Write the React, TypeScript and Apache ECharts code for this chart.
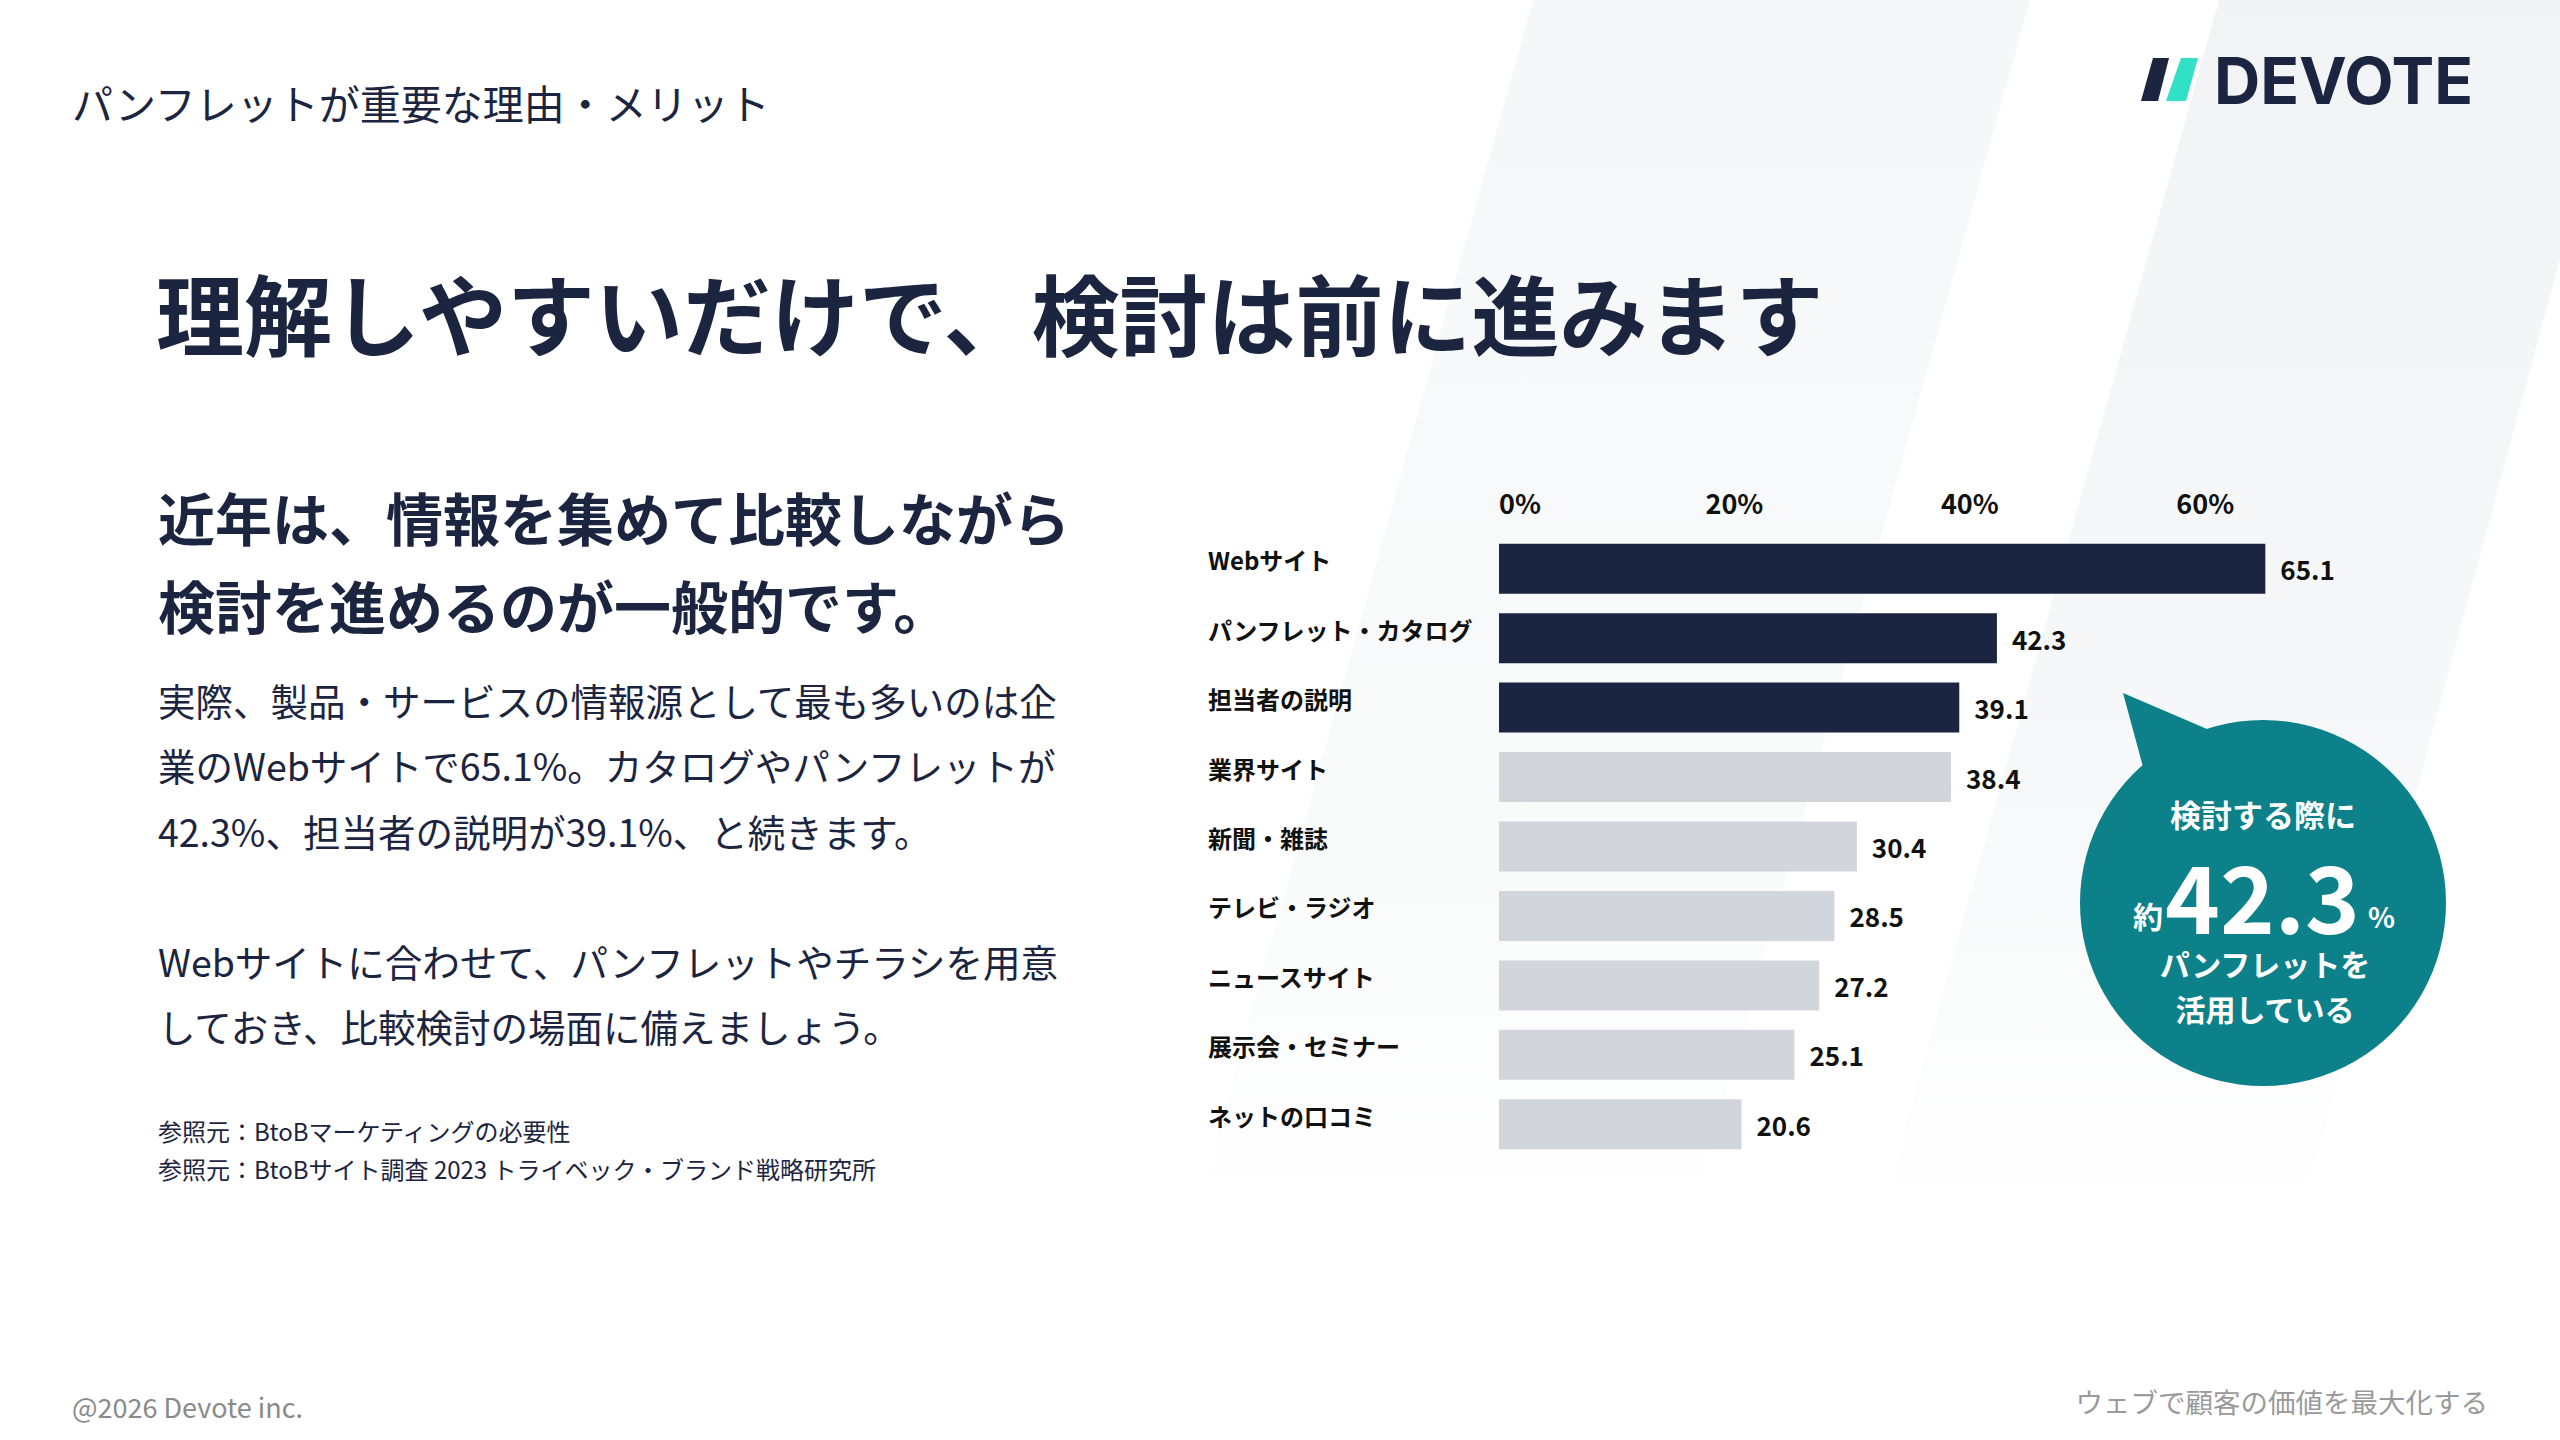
import React, { useEffect, useRef } from "react";
import * as echarts from "echarts";

// ---- data ----
const categories = [
  "Webサイト",
  "パンフレット・カタログ",
  "担当者の説明",
  "業界サイト",
  "新聞・雑誌",
  "テレビ・ラジオ",
  "ニュースサイト",
  "展示会・セミナー",
  "ネットの口コミ",
];
const values = [65.1, 42.3, 39.1, 38.4, 30.4, 28.5, 27.2, 25.1, 20.6];
const highlighted = [true, true, true, false, false, false, false, false, false];
const tickStep = 20;
const axisMax = 70;

const headerText = "パンフレットが重要な理由・メリット";
const titleText = "理解しやすいだけで、検討は前に進みます";
const subLines = ["近年は、情報を集めて比較しながら", "検討を進めるのが一般的です。"];
const bodyLines = [
  "実際、製品・サービスの情報源として最も多いのは企",
  "業のWebサイトで65.1%。カタログやパンフレットが",
  "42.3%、担当者の説明が39.1%、と続きます。",
];
const body2Lines = [
  "Webサイトに合わせて、パンフレットやチラシを用意",
  "しておき、比較検討の場面に備えましょう。",
];
const refLines = [
  "参照元：BtoBマーケティングの必要性",
  "参照元：BtoBサイト調査 2023 トライベック・ブランド戦略研究所",
];
const bubbleTop = "検討する際に";
const bubblePrefix = "約";
const bubbleValue = "42.3";
const bubbleUnit = "%";
const bubbleBottom = ["パンフレットを", "活用している"];
const footerLeft = "@2026 Devote inc.";
const footerRight = "ウェブで顧客の価値を最大化する";
const logoText = "DEVOTE";

const FONT = '"Noto Sans CJK JP", "Noto Sans", sans-serif';
const NAVY = "#1b2440";
const LIGHT = "#d2d5dc";
const TEAL = "#0c8189";
const TEXT = "#1c2540";

function txt(text: string, x: number, y: number, size: number, opts: any = {}) {
  return {
    type: "text",
    x,
    y,
    z: opts.z ?? 5,
    style: {
      text,
      fill: opts.fill ?? TEXT,
      fontSize: size,
      fontWeight: opts.weight ?? "normal",
      fontFamily: opts.family ?? FONT,
      textAlign: opts.align ?? "left",
      textVerticalAlign: opts.valign ?? "middle",
    },
  };
}

export default function App() {
  const ref = useRef<HTMLDivElement>(null);
  useEffect(() => {
    if (!ref.current) return;
    const chart = echarts.init(ref.current, undefined, { renderer: "svg" });

    const slope = 0.278;
    const H = 1440;
    const bandA = [
      [1533, 0],
      [2030, 0],
      [2030 - slope * H, H],
      [1533 - slope * H, H],
    ];
    const bandB = [
      [2219, 0],
      [2560, 0],
      [2560, 259],
      [2630 - 0.27 * H, H],
      [2219 - slope * H, H],
    ];

    const graphic: any[] = [
      {
        type: "polygon",
        z: 0,
        silent: true,
        shape: { points: bandA },
        style: {
          fill: new echarts.graphic.LinearGradient(0, 0, 0, 1, [
            { offset: 0, color: "#f6f7f8" },
            { offset: 0.6, color: "#f9fafa" },
            { offset: 0.85, color: "#ffffff" },
          ]),
        },
      },
      {
        type: "polygon",
        z: 0,
        silent: true,
        shape: { points: bandB },
        style: {
          fill: new echarts.graphic.LinearGradient(0, 0, 0, 1, [
            { offset: 0, color: "#f2f3f5" },
            { offset: 0.55, color: "#f7f8f9" },
            { offset: 0.85, color: "#ffffff" },
          ]),
        },
      },
      // logo slashes
      {
        type: "polygon",
        z: 5,
        shape: { points: [[2153, 58], [2169, 58], [2158, 101], [2141, 101]] },
        style: { fill: NAVY },
      },
      {
        type: "polygon",
        z: 5,
        shape: { points: [[2181, 58], [2198, 58], [2186, 101], [2166, 101]] },
        style: { fill: "#31e0c6" },
      },
      txt(logoText, 2214, 80, 64, { weight: "bold", family: '"Inter", "Lato", sans-serif', fill: NAVY }),
      // header and titles
      txt(headerText, 72, 102, 41),
      txt(titleText, 156, 310, 88, { weight: "bold" }),
      ...subLines.map((l, i) => txt(l, 158, 516 + i * 88, 57, { weight: "bold" })),
      ...bodyLines.map((l, i) => txt(l, 158, 699 + i * 65.5, 37.5)),
      ...body2Lines.map((l, i) => txt(l, 158, 960 + i * 65.5, 37.5)),
      ...refLines.map((l, i) => txt(l, 158, 1130 + i * 38, 24)),
      txt(footerLeft, 72, 1406, 27, { fill: "#8a8a8a" }),
      txt(footerRight, 2488, 1401, 27.5, { fill: "#9a9a9a", align: "right" }),
      // bubble
      {
        type: "polygon",
        z: 6,
        shape: { points: [[2123, 693], [2152, 800], [2228, 738]] },
        style: { fill: TEAL },
      },
      {
        type: "circle",
        z: 6,
        shape: { cx: 2263, cy: 903, r: 183 },
        style: { fill: TEAL },
      },
      txt(bubbleTop, 2263, 813, 31, { weight: "bold", fill: "#ffffff", align: "center", z: 7 }),
      {
        type: "text",
        x: 2264,
        y: 930,
        z: 7,
        style: {
          text: `{a|${bubblePrefix}}{b|${bubbleValue}}{c|${bubbleUnit}}`,
          textAlign: "center",
          textVerticalAlign: "bottom",
          fill: "#ffffff",
          fontFamily: FONT,
          rich: {
            a: { fontSize: 30, fontWeight: "bold", fill: "#ffffff", fontFamily: FONT, verticalAlign: "bottom", lineHeight: 30, padding: [0, 2, 0, 0] },
            b: { fontSize: 93, fontWeight: "bold", fill: "#ffffff", fontFamily: FONT, verticalAlign: "bottom", lineHeight: 93, padding: [0, 0, -10, 0] },
            c: { fontSize: 28, fontWeight: "bold", fill: "#ffffff", fontFamily: FONT, verticalAlign: "bottom", lineHeight: 28, padding: [0, 0, 0, 8] },
          },
        },
      },
      ...bubbleBottom.map((l, i) => txt(l, 2265, 963 + i * 45, 30, { weight: "bold", fill: "#ffffff", align: "center", z: 7 })),
    ];

    chart.setOption({
      animation: false,
      backgroundColor: "#ffffff",
      grid: { left: 1499, top: 534, width: 824, height: 625, containLabel: false },
      xAxis: {
        type: "value",
        position: "top",
        min: 0,
        max: axisMax,
        interval: tickStep,
        splitLine: { show: false },
        axisLine: { show: false },
        axisTick: { show: false },
        axisLabel: {
          formatter: (v: number) => `${v}%`,
          showMaxLabel: false,
          alignMinLabel: "left",
          margin: 18,
          fontSize: 27,
          fontWeight: "bold",
          color: "#111111",
          fontFamily: FONT,
        },
      },
      yAxis: {
        type: "category",
        data: categories,
        inverse: true,
        axisLine: { show: false },
        axisTick: { show: false },
        splitLine: { show: false },
        axisLabel: {
          align: "left",
          verticalAlign: "bottom",
          lineHeight: 18,
          margin: 291,
          fontSize: 24,
          fontWeight: "bold",
          color: "#111111",
          fontFamily: FONT,
        },
      },
      series: [
        {
          type: "bar",
          barWidth: 50,
          data: values.map((v, i) => ({
            value: v,
            itemStyle: { color: highlighted[i] ? NAVY : LIGHT },
          })),
          label: {
            show: true,
            position: "right",
            distance: 15,
            formatter: "{c}",
            fontSize: 26,
            fontWeight: "bold",
            color: "#111111",
            fontFamily: FONT,
            padding: [6, 0, 0, 0],
          },
          z: 3,
        },
      ],
      graphic,
    });

    return () => chart.dispose();
  }, []);

  return (
    <div
      ref={ref}
      style={{ position: "absolute", left: 0, top: 0, width: 2560, height: 1440 }}
    />
  );
}
